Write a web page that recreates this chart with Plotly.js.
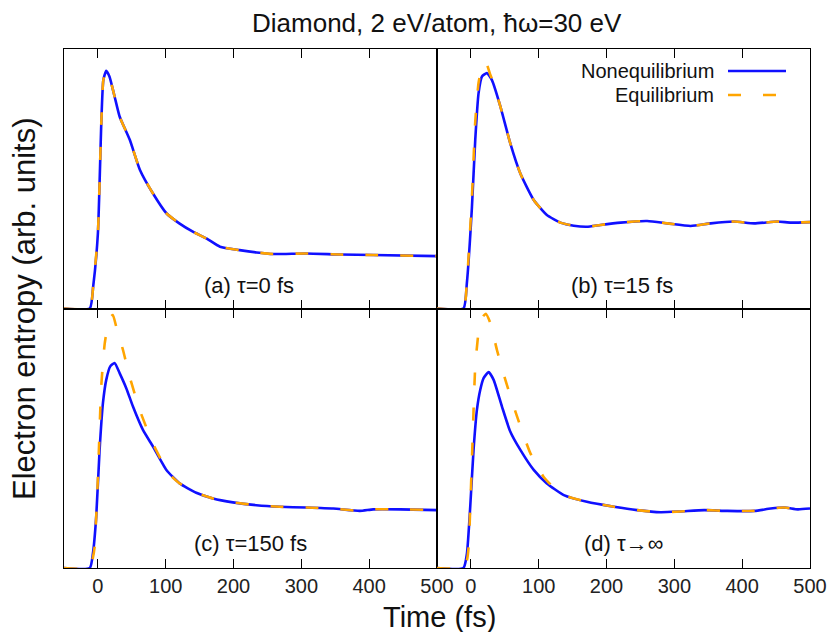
<!DOCTYPE html>
<html>
<head>
<meta charset="utf-8">
<script src="https://cdn.plot.ly/plotly-3.0.1.min.js"></script>
<style>
  html, body { margin: 0; padding: 0; background: #fff; }
  #chart { width: 831px; height: 632px; }
</style>
</head>
<body>
<div id="chart"></div>
<script>
// Electron entropy (arb. units) versus time (fs) for four relaxation times tau.

// (a) tau = 0 fs : both curves coincide
const timeA   = [-50, -12, -7, 0, 5, 8, 12.3, 17, 24.6, 32, 47, 62, 81, 101, 120, 140, 160, 180, 209, 234, 258, 307, 357, 406, 500];
const noneqA  = [0, 0, 0.084, 0.29, 0.714, 0.88, 0.916, 0.894, 0.817, 0.74, 0.65, 0.534, 0.444, 0.367, 0.328, 0.296, 0.27, 0.238, 0.225, 0.216, 0.21, 0.212, 0.208, 0.206, 0.202];
const eqTimeA = [-50, -12, -7, 0, 5, 8, 12.3, 17, 24.6, 32, 47, 62, 81, 101, 120, 140, 160, 180, 209, 234, 258, 307, 357, 406, 500];
const eqA     = [0, 0, 0.084, 0.29, 0.714, 0.88, 0.916, 0.894, 0.817, 0.74, 0.65, 0.534, 0.444, 0.367, 0.328, 0.296, 0.27, 0.238, 0.225, 0.216, 0.21, 0.212, 0.208, 0.206, 0.202];

// (b) tau = 15 fs
const timeB   = [-50, -11, -6, 1.5, 6.4, 11.3, 16.3, 23.6, 31, 43.3, 58, 72.9, 92.6, 112, 132, 151.7, 171, 191, 220.7, 260, 289.7, 324, 353.7, 388, 417.7, 452, 472, 500];
const noneqB  = [0, 0, 0.097, 0.39, 0.65, 0.83, 0.894, 0.907, 0.88, 0.78, 0.637, 0.52, 0.418, 0.36, 0.331, 0.319, 0.315, 0.322, 0.331, 0.337, 0.328, 0.318, 0.328, 0.335, 0.328, 0.335, 0.331, 0.333];
const eqTimeB = [-50, -11, -6, 1.5, 6.4, 11.3, 16.3, 20, 23.6, 28, 31, 43.3, 58, 72.9, 92.6, 112, 132, 151.7, 171, 191, 220.7, 260, 289.7, 324, 353.7, 388, 417.7, 452, 472, 500];
const eqB     = [0, 0, 0.1, 0.43, 0.72, 0.87, 0.93, 0.95, 0.94, 0.905, 0.885, 0.78, 0.637, 0.52, 0.418, 0.36, 0.331, 0.319, 0.315, 0.322, 0.331, 0.337, 0.328, 0.318, 0.328, 0.335, 0.328, 0.335, 0.331, 0.333];

// (c) tau = 150 fs
const timeC   = [-50, -12, -7.4, -2.5, 2.5, 7.4, 12.3, 18.2, 24.6, 32, 41.8, 51.7, 66.4, 81.2, 101, 120.5, 145, 169.7, 199, 233.7, 268, 307.5, 347, 386, 406, 445.8, 500];
const noneqC  = [0, 0, 0.055, 0.197, 0.455, 0.635, 0.725, 0.777, 0.79, 0.751, 0.693, 0.622, 0.532, 0.468, 0.378, 0.326, 0.29, 0.268, 0.253, 0.242, 0.236, 0.233, 0.229, 0.22, 0.226, 0.226, 0.223];
const eqTimeC = [-50, -12, -7.4, -4.9, 0, 4.9, 9.8, 14, 17.2, 22, 27, 37, 46.7, 61.5, 81, 96, 106, 120.5, 145, 169.7, 199, 233.7, 268, 307.5, 347, 386, 406, 445.8, 500];
const eqC     = [0, 0, 0.04, 0.08, 0.35, 0.7, 0.86, 0.93, 0.962, 0.975, 0.93, 0.84, 0.738, 0.61, 0.48, 0.403, 0.36, 0.326, 0.29, 0.268, 0.253, 0.242, 0.236, 0.233, 0.229, 0.22, 0.226, 0.226, 0.223];

// (d) tau -> infinity
const timeD   = [-50, -11, -5.9, -1, 3.9, 8.9, 13.8, 18.7, 26.1, 33.5, 45.8, 58, 72.9, 92.6, 112, 137, 171, 211, 245, 280, 309, 344, 378, 418, 442, 462, 482, 500];
const noneqD  = [0, 0, 0.055, 0.236, 0.455, 0.61, 0.687, 0.732, 0.755, 0.725, 0.622, 0.526, 0.455, 0.378, 0.326, 0.281, 0.255, 0.236, 0.223, 0.215, 0.218, 0.223, 0.22, 0.22, 0.229, 0.233, 0.226, 0.229];
const eqTimeD = [-50, -11, -5.9, -3.4, 1.5, 6.4, 11.3, 15, 18.7, 22, 28.6, 38.4, 50.7, 68, 87.7, 107, 122, 137, 171, 211, 245, 280, 309, 344, 378, 418, 442, 462, 482, 500];
const eqD     = [0, 0, 0.03, 0.08, 0.418, 0.777, 0.91, 0.955, 0.972, 0.98, 0.945, 0.84, 0.726, 0.584, 0.442, 0.352, 0.31, 0.281, 0.255, 0.236, 0.223, 0.215, 0.218, 0.223, 0.22, 0.22, 0.229, 0.233, 0.226, 0.229];

const panelLabels = ['(a) τ=0 fs', '(b) τ=15 fs', '(c) τ=150 fs', '(d) τ→∞'];
const seriesNames = ['Nonequilibrium', 'Equilibrium'];
const timeTicks = [0, 100, 200, 300, 400, 500];

const BLUE = '#1010ff';
const ORANGE = '#ffa500';
const FONT = 'Liberation Sans, Arial, sans-serif';
const EQ_DASH = '13px,22px';

const panels = [
  { t: timeA, n: noneqA, te: eqTimeA, e: eqA, xa: 'x',  ya: 'y'  },
  { t: timeB, n: noneqB, te: eqTimeB, e: eqB, xa: 'x2', ya: 'y2' },
  { t: timeC, n: noneqC, te: eqTimeC, e: eqC, xa: 'x3', ya: 'y3' },
  { t: timeD, n: noneqD, te: eqTimeD, e: eqD, xa: 'x4', ya: 'y4' }
];

const traces = [];
panels.forEach(p => {
  traces.push({
    x: p.t, y: p.n, xaxis: p.xa, yaxis: p.ya, type: 'scatter', mode: 'lines',
    name: seriesNames[0], showlegend: false, hoverinfo: 'skip',
    line: { color: BLUE, width: 2.6, shape: 'spline', smoothing: 0.5 }
  });
  traces.push({
    x: p.te, y: p.e, xaxis: p.xa, yaxis: p.ya, type: 'scatter', mode: 'lines',
    name: seriesNames[1], showlegend: false, hoverinfo: 'skip',
    line: { color: ORANGE, width: 2.6, dash: EQ_DASH, shape: 'spline', smoothing: 0.5 }
  });
});

function xAxis(domain, anchor, labels) {
  return {
    domain: domain, anchor: anchor, range: [-50, 500],
    tickmode: 'array', tickvals: timeTicks, ticktext: timeTicks.map(String),
    showticklabels: labels, ticks: 'inside', ticklen: 9, tickwidth: 1, tickcolor: '#000',
    showline: true, mirror: 'ticks', linecolor: '#000', linewidth: 1,
    showgrid: false, zeroline: false,
    tickfont: { family: FONT, size: 20, color: '#222' }
  };
}
function yAxis(domain, anchor) {
  return {
    domain: domain, anchor: anchor, range: [0, 1],
    showticklabels: false, ticks: '', showline: true, mirror: true,
    linecolor: '#000', linewidth: 1, showgrid: false, zeroline: false
  };
}

// paper-coordinate helpers for the 746 x 519 plotting area
const PL = 64, PT = 49, PW = 746, PH = 519;
const px = v => (v - PL) / PW;
const py = v => 1 - (v - PT) / PH;

const annotations = [
  { text: 'Diamond, 2 eV/atom, ħω=30 eV', x: 0.5, y: py(23), font: { size: 26 } },
  { text: 'Electron entropy (arb. units)', x: px(24), y: py(309), textangle: -90, font: { size: 31 } },
  { text: 'Time (fs)', x: px(439), y: py(617), font: { size: 29 } },
  { text: panelLabels[0], x: px(249), y: py(285), font: { size: 22 } },
  { text: panelLabels[1], x: px(622), y: py(285), font: { size: 22 } },
  { text: panelLabels[2], x: px(250), y: py(543), font: { size: 22 } },
  { text: panelLabels[3], x: px(623), y: py(543), font: { size: 22 } },
  { text: seriesNames[0], x: px(716), y: py(71), xanchor: 'right', font: { size: 20 } },
  { text: seriesNames[1], x: px(716), y: py(95), xanchor: 'right', font: { size: 20 } }
].map(a => Object.assign({
  xref: 'paper', yref: 'paper', showarrow: false, xanchor: 'center', yanchor: 'middle'
}, a, { font: Object.assign({ family: FONT, color: '#111' }, a.font) }));

// legend key samples
const shapes = [
  { type: 'line', xref: 'paper', yref: 'paper', x0: px(728), x1: px(786), y0: py(71), y1: py(71),
    line: { color: BLUE, width: 2.6 } },
  { type: 'line', xref: 'paper', yref: 'paper', x0: px(728), x1: px(786), y0: py(95), y1: py(95),
    line: { color: ORANGE, width: 2.6, dash: EQ_DASH } }
];

const layout = {
  width: 831, height: 632,
  margin: { l: PL, r: 831 - PL - PW, t: PT, b: 632 - PT - PH },
  paper_bgcolor: '#fff', plot_bgcolor: '#fff',
  showlegend: false,
  xaxis:  xAxis([0, 0.5], 'y',  false),
  xaxis2: xAxis([0.5, 1], 'y2', false),
  xaxis3: xAxis([0, 0.5], 'y3', true),
  xaxis4: xAxis([0.5, 1], 'y4', true),
  yaxis:  yAxis([0.5, 1], 'x'),
  yaxis2: yAxis([0.5, 1], 'x2'),
  yaxis3: yAxis([0, 0.5], 'x3'),
  yaxis4: yAxis([0, 0.5], 'x4'),
  annotations: annotations,
  shapes: shapes
};

Plotly.newPlot('chart', traces, layout, { staticPlot: true, displayModeBar: false });
</script>
</body>
</html>
